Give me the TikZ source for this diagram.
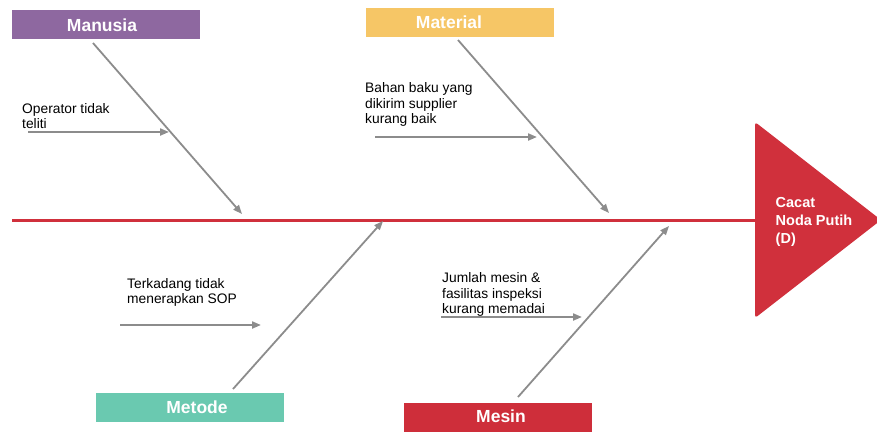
\documentclass[tikz,border=0pt]{standalone}
\usepackage{fontspec}
\setmainfont{Liberation Sans}
\usetikzlibrary{arrows.meta,calc}

\definecolor{manusiaC}{RGB}{142,104,160}
\definecolor{materialC}{RGB}{246,198,102}
\definecolor{metodeC}{RGB}{106,201,176}
\definecolor{mesinC}{RGB}{206,46,58}
\definecolor{headC}{RGB}{208,48,60}
\definecolor{boneC}{RGB}{140,140,140}

\tikzset{
  catbox/.style={rectangle, inner sep=0pt, minimum width=188pt, minimum height=29pt},
  cattitle/.style={inner sep=0pt, text=white, font=\fontsize{17.5}{20}\selectfont\bfseries},
  bone/.style={draw=boneC, line width=1.8pt, -{Triangle[length=9pt,width=7pt]}},
  subarrow/.style={draw=boneC, line width=2pt, -{Triangle[length=9pt,width=7pt]}},
  % multi-line nodes: the base anchor sits on the last line's baseline
  causetext/.style={anchor=base west, inner sep=0pt, align=left,
    font=\fontsize{13.8}{15.3}\selectfont},
}

\begin{document}
\begin{tikzpicture}[x=1pt,y=-1pt]
\useasboundingbox (0,0) rectangle (877,432);

% category boxes and their titles
\node[catbox, fill=manusiaC]  (manusia)  at (106,24.5)    {};
\node[catbox, fill=materialC] (material) at (460,22.5)    {};
\node[catbox, fill=metodeC]   (metode)   at (189.5,407.5) {};
\node[catbox, fill=mesinC]    (mesin)    at (497.5,417.5) {};
\node[cattitle] (manusiaT)  at ([xshift=-4pt,yshift=-1pt]manusia.center)  {Manusia};
\node[cattitle] (materialT) at ([xshift=-11pt]material.center)            {Material};
\node[cattitle] (metodeT)   at ([xshift=7.5pt]metode.center)              {Metode};
\node[cattitle] (mesinT)    at ([xshift=3.5pt,yshift=1.5pt]mesin.center)  {Mesin};

% spine
\coordinate (tail) at (12,220);
\coordinate (neck) at (756,220);
\draw[headC, line width=3pt] (tail) -- (neck);

% fish head
\fill[headC, rounded corners=3pt] (755,122) -- (881,220) -- (755,318) -- cycle;
\node[anchor=base west, inner sep=0pt, align=left, text=white,
      font=\fontsize{14.5}{17.8}\selectfont\bfseries] (effect) at (775.5,243.5)
      {Cacat\\Noda Putih\\(D)};

% bone ends
\coordinate (manusiaS) at (93,43);
\coordinate (manusiaE) at (242,214);
\coordinate (materialS) at (458,40);
\coordinate (materialE) at (609,213);
\coordinate (metodeS) at (233,389);
\coordinate (metodeE) at (383,221);
\coordinate (mesinS) at (518,397);
\coordinate (mesinE) at (669,226);

\draw[bone] (manusiaS) -- (manusiaE);
\draw[bone] (materialS) -- (materialE);
\draw[bone] (metodeS) -- (metodeE);
\draw[bone] (mesinS) -- (mesinE);

% causes
\node[causetext] (operator) at (22,128.5) {Operator tidak\\teliti};
\coordinate (opA) at (28,132);  \coordinate (opB) at (169,132);
\draw[subarrow] (opA) -- (opB);

\node[causetext] (bahan) at (365,123.5) {Bahan baku yang\\dikirim supplier\\kurang baik};
\coordinate (bhA) at (375,137); \coordinate (bhB) at (537,137);
\draw[subarrow] (bhA) -- (bhB);

\node[causetext] (sop) at (127,303.5) {Terkadang tidak\\menerapkan SOP};
\coordinate (spA) at (120,325); \coordinate (spB) at (261,325);
\draw[subarrow] (spA) -- (spB);

\node[causetext] (jumlah) at (442,313.5) {Jumlah mesin \&\\fasilitas inspeksi\\kurang memadai};
\coordinate (jmA) at (441,317); \coordinate (jmB) at (582,317);
\draw[subarrow] (jmA) -- (jmB);
\end{tikzpicture}
\end{document}
